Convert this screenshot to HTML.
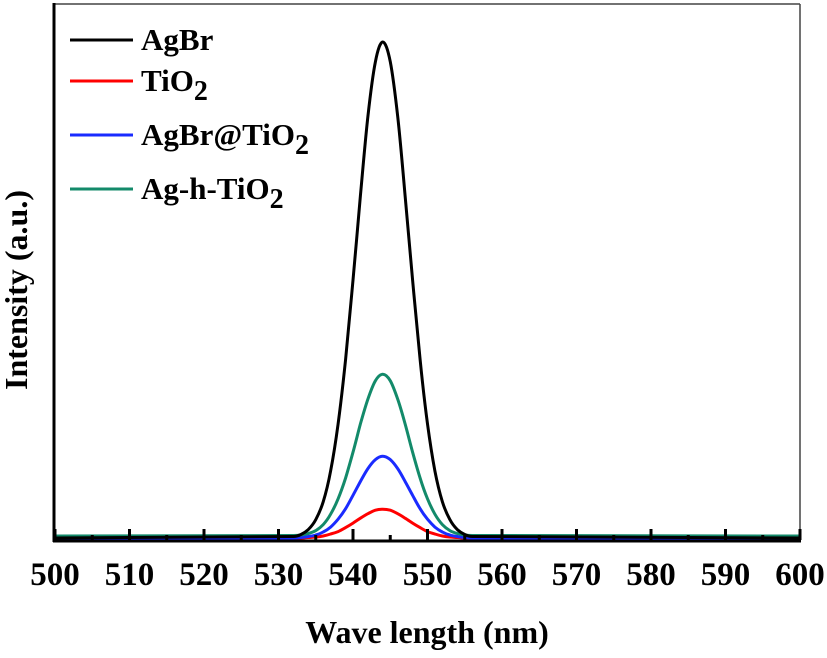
<!DOCTYPE html>
<html><head><meta charset="utf-8"><style>
html,body{margin:0;padding:0;background:#fff;}
svg, svg text{font-family:"Liberation Serif","Times New Roman",serif;font-weight:bold;}
</style></head><body>
<svg id="chart" width="827" height="653" viewBox="0 0 827 653" xmlns="http://www.w3.org/2000/svg">
<g id="plot"></g>
<g id="axes"></g>
<text x="427" y="643" font-size="32" text-anchor="middle">Wave length (nm)</text>
<text transform="translate(27,290) rotate(-90)" font-size="32" text-anchor="middle">Intensity (a.u.)</text>
<g font-size="31">
 <g><line x1="70" y1="40" x2="133" y2="40" stroke="#000" stroke-width="3"/><text x="141" y="50">AgBr</text></g>
 <g><line x1="70" y1="81" x2="133" y2="81" stroke="#f00" stroke-width="3"/><text x="141" y="91">TiO<tspan font-size="28" dy="9">2</tspan></text></g>
 <g><line x1="70" y1="135" x2="133" y2="135" stroke="#1a2bff" stroke-width="3"/><text x="141" y="145">AgBr@TiO<tspan font-size="28" dy="9">2</tspan></text></g>
 <g><line x1="70" y1="189" x2="133" y2="189" stroke="#138a6a" stroke-width="3"/><text x="141" y="199">Ag-h-TiO<tspan font-size="28" dy="9">2</tspan></text></g>
</g>
</svg>
<script>
var wavelengths=[500,532,533,534,535,536,537,538,539,540,541,542,543,544,545,546,547,548,549,550,551,552,553,554,555,556,600];
var agbr=[0,0.3,0.7,1.7,3.7,7.3,13.5,23,36,52,69,85,96,100,96,85,69,52,36,23,13.5,7.3,3.7,1.7,0.7,0.3,0];
var tio2=[0,0,0,0.1,0.2,0.4,0.8,1.3,2.1,3,4,4.9,5.6,5.8,5.6,4.9,4,3,2.1,1.3,0.8,0.4,0.2,0.1,0,0,0];
var agbrTio2=[0,0,0.1,0.3,0.6,1.2,2.2,3.8,5.9,8.6,11.4,14,15.8,16.5,15.8,14,11.4,8.6,5.9,3.8,2.2,1.2,0.6,0.3,0.1,0,0];
var agHTio2=[0.4,0.5,0.6,0.9,1.5,2.7,4.8,7.9,12.1,17.3,23,28,31.7,33,31.7,28,23,17.3,12.1,7.9,4.8,2.7,1.5,0.9,0.6,0.5,0.4];
var xTicks=[500,510,520,530,540,550,560,570,580,590,600];
var xMinor=[505,515,525,535,545,555,565,575,585,595];
var NS="http://www.w3.org/2000/svg";
var L=55,R=800,T=4,B=540,yBase=538,yPeak=42;
function xs(v){return L+(v-500)/(600-500)*(R-L);}
function ys(v){return yBase-v/100*(yBase-yPeak);}
var plot=document.getElementById('plot');
var axes=document.getElementById('axes');
function f(n){return n.toFixed(1);}
function smoothPath(pts){
  var d='M'+f(pts[0][0])+','+f(pts[0][1]);
  for(var i=0;i<pts.length-1;i++){
    var p1=pts[i],p2=pts[i+1];
    var p0=(i>0)?pts[i-1]:p1;
    var p3=(i+2<pts.length)?pts[i+2]:p2;
    if(p2[0]-p1[0]>20){d+='L'+f(p2[0])+','+f(p2[1]);continue;}
    var c1x=p1[0]+(p2[0]-p0[0])/6, c1y=p1[1]+(p2[1]-p0[1])/6;
    var c2x=p2[0]-(p3[0]-p1[0])/6, c2y=p2[1]-(p3[1]-p1[1])/6;
    if(p1[0]-p0[0]>20){c1x=p1[0]+(p2[0]-p1[0])/3;c1y=p1[1];}
    if(p3[0]-p2[0]>20){c2x=p2[0]-(p2[0]-p1[0])/3;c2y=p2[1];}
    d+='C'+f(c1x)+','+f(c1y)+' '+f(c2x)+','+f(c2y)+' '+f(p2[0])+','+f(p2[1]);
  }
  return d;
}
function series(arr,color,name){
  var pts=[];
  for(var i=0;i<arr.length;i++){pts.push([xs(wavelengths[i]),ys(arr[i])]);}
  var p=document.createElementNS(NS,'path');
  p.setAttribute('d',smoothPath(pts));
  p.setAttribute('fill','none');
  p.setAttribute('stroke',color);
  p.setAttribute('stroke-width','3');
  p.setAttribute('stroke-linejoin','round');
  
  
  plot.appendChild(p);
}
series(tio2,'#f00','series-tio2');
series(agbrTio2,'#1a2bff','series-agbr-tio2');
series(agHTio2,'#138a6a','series-ag-h-tio2');
series(agbr,'#000','series-agbr');
function line(x1,y1,x2,y2,c,w,name){
  var l=document.createElementNS(NS,'line');
  l.setAttribute('x1',x1);l.setAttribute('y1',y1);l.setAttribute('x2',x2);l.setAttribute('y2',y2);
  l.setAttribute('stroke',c);l.setAttribute('stroke-width',w);
  
  
  axes.appendChild(l);
}
line(L,T,R,T,'#444',1.5,'top-frame');
line(R,T,R,B,'#444',1.5,'right-frame');
line(L-1,T-1,L-1,B+2,'#000',3,'y-axis-line');
line(L-2,B+1,R+1,B+1,'#000',3,'x-axis-line');
for(var k=0;k<xTicks.length;k++){
  var v=xTicks[k];
  line(xs(v),B,xs(v),B-11,'#000',3,'x-major-tick');
  var t=document.createElementNS(NS,'text');
  t.setAttribute('x',xs(v));
  t.setAttribute('y',585);
  t.setAttribute('font-size','33');
  t.setAttribute('text-anchor','middle');
  t.textContent=v;
  
  
  axes.appendChild(t);
}
for(var m=0;m<xMinor.length;m++){
  line(xs(xMinor[m]),B,xs(xMinor[m]),B-5,'#000',3,'x-minor-tick');
}
</script>
</body></html>
